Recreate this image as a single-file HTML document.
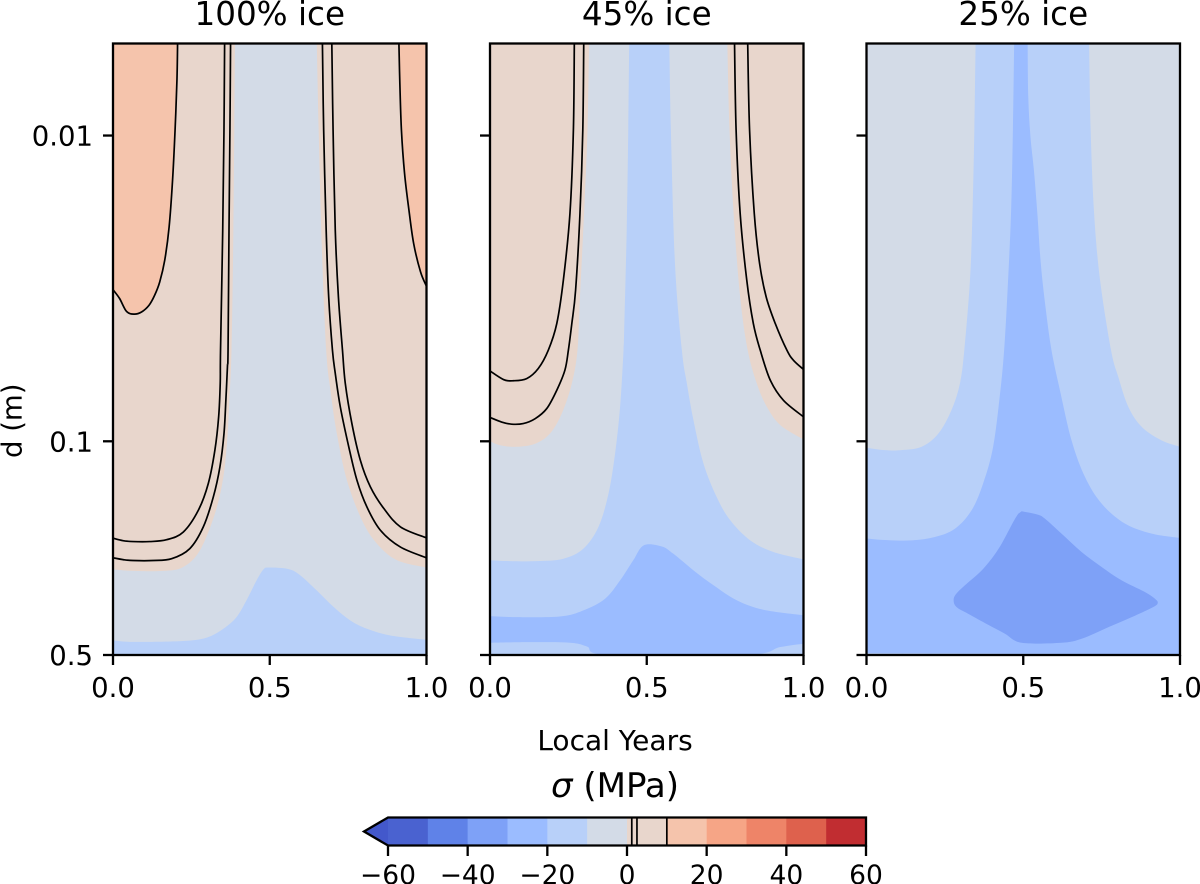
<!DOCTYPE html>
<html lang="en">
<head>
<meta charset="utf-8">
<title>Thermal stress contours by ice fraction</title>
<style>
html,body{margin:0;padding:0;background:#fff;width:1200px;height:884px;overflow:hidden}
svg{display:block}
text{font-family:"DejaVu Sans","Liberation Sans",sans-serif;fill:#000}
</style>
</head>
<body>
<svg id="chart" xmlns="http://www.w3.org/2000/svg" width="1200" height="884" viewBox="0 0 1200 884">
  <defs id="defs"></defs>
  <text x="615" y="750" font-size="28" text-anchor="middle">Local Years</text>
  <text transform="translate(21.5,458) rotate(-90)" font-size="27.5">d (m)</text>
  <text x="615" y="797" font-size="34" text-anchor="middle"><tspan font-style="italic">σ</tspan> (MPa)</text>
</svg>
<script>
// ---- Axis data ----
const xTicks = [0, 0.5, 1];
const xTickLabels = ['0.0', '0.5', '1.0'];
const yTicks = [0.01, 0.1, 0.5];
const yTickLabels = ['0.01', '0.1', '0.5'];
const depthMin = 0.005;
const depthMax = 0.5;
const panelTitles = ['100% ice', '45% ice', '25% ice'];

// ---- Colour bands (MPa) ----
const bandLevels = [-60,-50,-40,-30,-20,-10,0,10,20,30,40,50,60];
const bandColors = ['#4a62d0','#5f82e8','#7ea1f7','#9bbcff','#b8d0f9','#d3dbe7','#e8d6cc','#f5c4ac','#f6a586','#ee8468','#de614d','#c12d31'];
const contourLevels = [1.2, 2.5, 10];
const cbarTicks = [-60,-40,-20,0,20,40,60];
const cbarTickLabels = ['−60','−40','−20','0','20','40','60'];

// ---- Contour vertices: [local year, log10 depth in m] ----
// 100% ice
const a10Left = [[0,-1.496],[.021,-1.467],[.043,-1.425],[.067,-1.416],[.091,-1.423],[.115,-1.445],[.133,-1.478],[.149,-1.521],[.165,-1.592],[.179,-1.701],[.190,-1.854],[.198,-2.018],[.204,-2.181],[.206,-2.301]];
const a10Right = [[1,-1.507],[.981,-1.554],[.959,-1.647],[.944,-1.756],[.930,-1.876],[.920,-2.018],[.915,-2.170],[.912,-2.301]];
const a3Left = [[.356,-2.301],[.354,-2.018],[.350,-1.690],[.343,-1.298],[.342,-1.189],[.337,-1.080],[.325,-.971],[.304,-.862],[.272,-.774],[.224,-.703],[.171,-.678],[.117,-.672],[.064,-.672],[.032,-.675],[0,-.683]];
const a1Left = [[.375,-2.301],[.373,-2.018],[.370,-1.690],[.367,-1.298],[.365,-1.243],[.360,-1.134],[.354,-1.025],[.341,-.916],[.320,-.818],[.288,-.720],[.245,-.649],[.187,-.616],[.128,-.610],[.064,-.610],[.032,-.613],[0,-.619]];
const a1Right = [[.668,-2.301],[.672,-2.018],[.680,-1.690],[.688,-1.472],[.700,-1.298],[.709,-1.222],[.725,-1.113],[.752,-.982],[.778,-.873],[.810,-.785],[.853,-.709],[.917,-.654],[1,-.619]];
const a3Right = [[.698,-2.301],[.702,-2.018],[.709,-1.690],[.719,-1.472],[.732,-1.298],[.741,-1.189],[.762,-1.058],[.789,-.938],[.821,-.851],[.864,-.780],[.917,-.720],[1,-.684]];
const a0Left = [[.389,-2.301],[.384,-1.690],[.378,-1.298],[.371,-1.134],[.365,-1.014],[.352,-.883],[.325,-.763],[.277,-.643],[.224,-.589],[.160,-.576],[.064,-.576],[0,-.581]];
const a0Right = [[1,-.587],[.906,-.611],[.842,-.665],[.794,-.742],[.746,-.873],[.714,-1.025],[.695,-1.156],[.680,-1.298],[.666,-1.636],[.656,-2.018],[.650,-2.301]];
const aMinus10 = [[0,-.349],[.064,-.344],[.224,-.347],[.299,-.358],[.352,-.387],[.394,-.425],[.426,-.480],[.458,-.545],[.480,-.581],[.496,-.587],[.560,-.582],[.597,-.562],[.650,-.512],[.704,-.458],[.757,-.414],[.810,-.387],[.885,-.365],[1,-.351]];

// 45% ice
const b0Left = [[.316,-2.301],[.311,-2.018],[.300,-1.745],[.287,-1.472],[.279,-1.298],[.261,-1.189],[.229,-1.091],[.191,-1.025],[.144,-.992],[.085,-.982],[.032,-.987],[0,-1.000]];
const b0Right = [[1,-1.006],[.926,-1.053],[.883,-1.113],[.851,-1.189],[.822,-1.298],[.798,-1.472],[.777,-1.745],[.764,-2.018],[.757,-2.301]];
const bMinus10Left = [[.444,-2.301],[.441,-2.018],[.436,-1.690],[.428,-1.363],[.426,-1.298],[.415,-1.113],[.399,-.960],[.378,-.829],[.346,-.720],[.298,-.649],[.234,-.616],[.149,-.608],[.064,-.608],[0,-.611]];
const bMinus10Right = [[1,-.614],[.904,-.638],[.830,-.676],[.766,-.742],[.723,-.818],[.681,-.927],[.649,-1.069],[.628,-1.189],[.612,-1.298],[.590,-1.581],[.577,-2.018],[.572,-2.301]];
const bMinus20Top = [[0,-.428],[.074,-.425],[.223,-.427],[.298,-.447],[.367,-.485],[.415,-.545],[.457,-.611],[.491,-.660],[.548,-.656],[.585,-.632],[.649,-.578],[.713,-.529],[.787,-.480],[.872,-.449],[1,-.431]];
const bMinus20Bottom = [[1,-.338],[.926,-.327],[.819,-.301],[.378,-.301],[.309,-.329],[.255,-.341],[.128,-.343],[0,-.341]];
const b3Left = [[.269,-2.301],[.266,-2.018],[.255,-1.745],[.234,-1.527],[.213,-1.385],[.186,-1.298],[.154,-1.238],[.117,-1.205],[.074,-1.198],[.043,-1.202],[0,-1.230]];
const b1Left = [[.299,-2.301],[.296,-2.018],[.287,-1.745],[.273,-1.494],[.261,-1.385],[.250,-1.298],[.239,-1.233],[.213,-1.167],[.181,-1.107],[.144,-1.074],[.106,-1.058],[.069,-1.056],[.037,-1.063],[0,-1.078]];
const b1Right = [[.780,-2.301],[.785,-2.018],[.798,-1.745],[.819,-1.527],[.840,-1.385],[.862,-1.298],[.894,-1.200],[.936,-1.134],[1,-1.080]];
const b3Right = [[.822,-2.301],[.828,-2.018],[.843,-1.745],[.860,-1.581],[.881,-1.472],[.910,-1.385],[.947,-1.298],[.968,-1.265],[1,-1.235]];

// 25% ice
const cMinus10Left = [[.348,-2.301],[.344,-2.018],[.338,-1.745],[.330,-1.527],[.312,-1.298],[.298,-1.189],[.271,-1.102],[.229,-1.025],[.176,-.982],[.112,-.971],[.059,-.971],[0,-.979]];
const cMinus10Right = [[1,-.982],[.941,-1.003],[.878,-1.047],[.835,-1.113],[.803,-1.211],[.780,-1.298],[.745,-1.527],[.726,-1.745],[.715,-2.018],[.710,-2.301]];
const cMinus20Left = [[.471,-2.301],[.467,-2.018],[.461,-1.745],[.450,-1.494],[.439,-1.298],[.426,-1.156],[.404,-.982],[.372,-.862],[.335,-.774],[.282,-.714],[.218,-.687],[.144,-.676],[.059,-.677],[0,-.682]];
const cMinus20Right = [[1,-.684],[.910,-.698],[.824,-.731],[.750,-.796],[.697,-.883],[.654,-1.003],[.617,-1.167],[.590,-1.298],[.571,-1.439],[.556,-1.581],[.545,-1.745],[.534,-1.887],[.523,-1.996],[.516,-2.127],[.514,-2.301]];
const cMinus20Base = [[0,-.307],[1,-.303]];
const cMinus30 = [[.495,-.771],[.546,-.760],[.569,-.747],[.622,-.698],[.686,-.638],[.750,-.589],[.814,-.545],[.888,-.507],[.920,-.485],[.929,-.472],[.915,-.458],[.846,-.425],[.771,-.392],[.686,-.354],[.622,-.341],[.495,-.341],[.441,-.371],[.388,-.400],[.324,-.436],[.287,-.458],[.278,-.480],[.287,-.502],[.324,-.538],[.362,-.572],[.399,-.616],[.431,-.665],[.468,-.736],[.484,-.763]];

// ---- Layout ----
const svgNS = 'http://www.w3.org/2000/svg';
const chart = document.getElementById('chart');
const defs = document.getElementById('defs');
const plotTop = 43.5, plotBottom = 655, plotWidth = 313.5;
const panelLefts = [113, 490, 866.5];
const cbarLeft = 388, cbarRight = 866, cbarTop = 817.5, cbarBottom = 845.5, cbarTipX = 364;

const logMin = Math.log10(depthMin), logMax = Math.log10(depthMax);
function yFromLog(l){ return plotTop + (l - logMin) / (logMax - logMin) * (plotBottom - plotTop); }
function xFromYear(left, v){ return left + v * plotWidth; }
function xFromStress(v){ return cbarLeft + (v - bandLevels[0]) / (bandLevels[bandLevels.length-1] - bandLevels[0]) * (cbarRight - cbarLeft); }

function curve(pts, moved){
  let d = (moved ? 'L' : 'M') + pts[0][0].toFixed(2) + ' ' + pts[0][1].toFixed(2);
  for (let i = 0; i < pts.length - 1; i++) {
    const p0 = pts[Math.max(i-1,0)], p1 = pts[i], p2 = pts[i+1], p3 = pts[Math.min(i+2,pts.length-1)];
    const c1x = p1[0] + (p2[0]-p0[0])/6, c1y = p1[1] + (p2[1]-p0[1])/6;
    const c2x = p2[0] - (p3[0]-p1[0])/6, c2y = p2[1] - (p3[1]-p1[1])/6;
    d += 'C' + c1x.toFixed(2) + ' ' + c1y.toFixed(2) + ' ' + c2x.toFixed(2) + ' ' + c2y.toFixed(2) + ' ' + p2[0].toFixed(2) + ' ' + p2[1].toFixed(2);
  }
  return d;
}
function toPixels(left, pts){ return pts.map(p => [xFromYear(left, p[0]), yFromLog(p[1])]); }
function edgesPath(left, edges){
  let d = '';
  edges.forEach((e, i) => { d += curve(toPixels(left, e), i > 0); });
  return d + 'Z';
}
function mk(tag, attrs, parent){
  const el = document.createElementNS(svgNS, tag);
  for (const k in attrs) el.setAttribute(k, attrs[k]);
  (parent || chart).appendChild(el);
  return el;
}

const bottomCorners = [[0,logMax],[1,logMax]];
const cTL = [[0,logMin]], cTR = [[1,logMin]];
const cBL = [[0,logMax]], cBR = [[1,logMax]];

// Panel definitions: base band then filled regions (low index = painted first)
const panels = [
  { name:'ice-100', base:6,
    regions:[
      {band:7, edges:[a10Left, cTL], name:'band-10-20-left'},
      {band:7, edges:[a10Right, cTR], name:'band-10-20-right'},
      {band:5, edges:[a0Left, bottomCorners, a0Right], name:'band-minus10-0'},
      {band:4, edges:[aMinus10, cBR, cBL], name:'band-minus20-minus10'}
    ],
    lines:[a10Left, a10Right, a3Left, a1Left, a1Right, a3Right] },
  { name:'ice-45', base:6,
    regions:[
      {band:5, edges:[b0Left, bottomCorners, b0Right], name:'band-minus10-0'},
      {band:4, edges:[bMinus10Left, bottomCorners, bMinus10Right], name:'band-minus20-minus10'},
      {band:3, edges:[bMinus20Top, bMinus20Bottom], name:'band-minus30-minus20'}
    ],
    lines:[b3Left, b1Left, b1Right, b3Right] },
  { name:'ice-25', base:5,
    regions:[
      {band:4, edges:[cMinus10Left, bottomCorners, cMinus10Right], name:'band-minus20-minus10'},
      {band:3, edges:[cMinus20Left, cMinus20Base, cMinus20Right], name:'band-minus30-minus20'},
      {band:2, edges:[cMinus30], name:'band-minus40-minus30'}
    ],
    lines:[] }
];

panels.forEach((panel, pi) => {
  const left = panelLefts[pi];
  const clip = mk('clipPath', {id:'clip' + pi}, defs);
  mk('rect', {x:left, y:plotTop, width:plotWidth, height:plotBottom-plotTop}, clip);

  const g = mk('g', {'clip-path':'url(#clip' + pi + ')'});
  
  

  const bg = mk('rect', {x:left, y:plotTop, width:plotWidth, height:plotBottom-plotTop, fill:bandColors[panel.base]}, g);
  
  

  panel.regions.forEach(r => {
    const p = mk('path', {d:edgesPath(left, r.edges), fill:bandColors[r.band]}, g);
    
    
  });
  panel.lines.forEach(l => {
    const p = mk('path', {d:curve(toPixels(left, l), false), fill:'none', stroke:'#000', 'stroke-width':1.7}, g);
    
    
  });

  const frame = mk('rect', {x:left, y:plotTop, width:plotWidth, height:plotBottom-plotTop, fill:'none', stroke:'#000', 'stroke-width':2.3});
  
  

  const title = mk('text', {x:left + plotWidth/2, y:25, 'font-size':32.6, 'text-anchor':'middle'});
  title.textContent = panelTitles[pi];
  
  

  xTicks.forEach((t, i) => {
    const x = xFromYear(left, t);
    const tick = mk('line', {x1:x, x2:x, y1:plotBottom, y2:plotBottom+10, stroke:'#000', 'stroke-width':2.3});
    
    
    const lab = mk('text', {x:x, y:697, 'font-size':27.5, 'text-anchor':'middle'});
    lab.textContent = xTickLabels[i];
    
    
  });
  yTicks.forEach((t, i) => {
    const y = yFromLog(Math.log10(t));
    const tick = mk('line', {x1:left-10, x2:left, y1:y, y2:y, stroke:'#000', 'stroke-width':2.3});
    
    
    if (pi === 0) {
      const lab = mk('text', {x:93, y:y+10, 'font-size':27.5, 'text-anchor':'end'});
      lab.textContent = yTickLabels[i];
      
      
    }
  });
});

// ---- Colour bar ----
const arrow = mk('polygon', {points: cbarLeft + ',' + cbarTop + ' ' + cbarTipX + ',' + (cbarTop+cbarBottom)/2 + ' ' + cbarLeft + ',' + cbarBottom, fill:'#4358cb'});


bandColors.forEach((c, i) => {
  const x0 = xFromStress(bandLevels[i]), x1 = xFromStress(bandLevels[i+1]);
  const cell = mk('rect', {x:x0, y:cbarTop, width:x1-x0+0.3, height:cbarBottom-cbarTop, fill:c});
  
  
});
contourLevels.forEach(v => {
  const x = xFromStress(v);
  const ln = mk('line', {x1:x, x2:x, y1:cbarTop, y2:cbarBottom, stroke:'#000', 'stroke-width':1.7});
  
  
});
const outline = mk('path', {d:'M' + cbarLeft + ' ' + cbarTop + 'L' + cbarRight + ' ' + cbarTop + 'L' + cbarRight + ' ' + cbarBottom + 'L' + cbarLeft + ' ' + cbarBottom + 'L' + cbarTipX + ' ' + (cbarTop+cbarBottom)/2 + 'Z', fill:'none', stroke:'#000', 'stroke-width':2.3});


cbarTicks.forEach((t, i) => {
  const x = xFromStress(t);
  const tick = mk('line', {x1:x, x2:x, y1:cbarBottom, y2:cbarBottom+10.5, stroke:'#000', 'stroke-width':2.3});
  
  
  const lab = mk('text', {x:x, y:884, 'font-size':26.5, 'text-anchor':'middle'});
  lab.textContent = cbarTickLabels[i];
  
  
});
</script>
</body>
</html>
